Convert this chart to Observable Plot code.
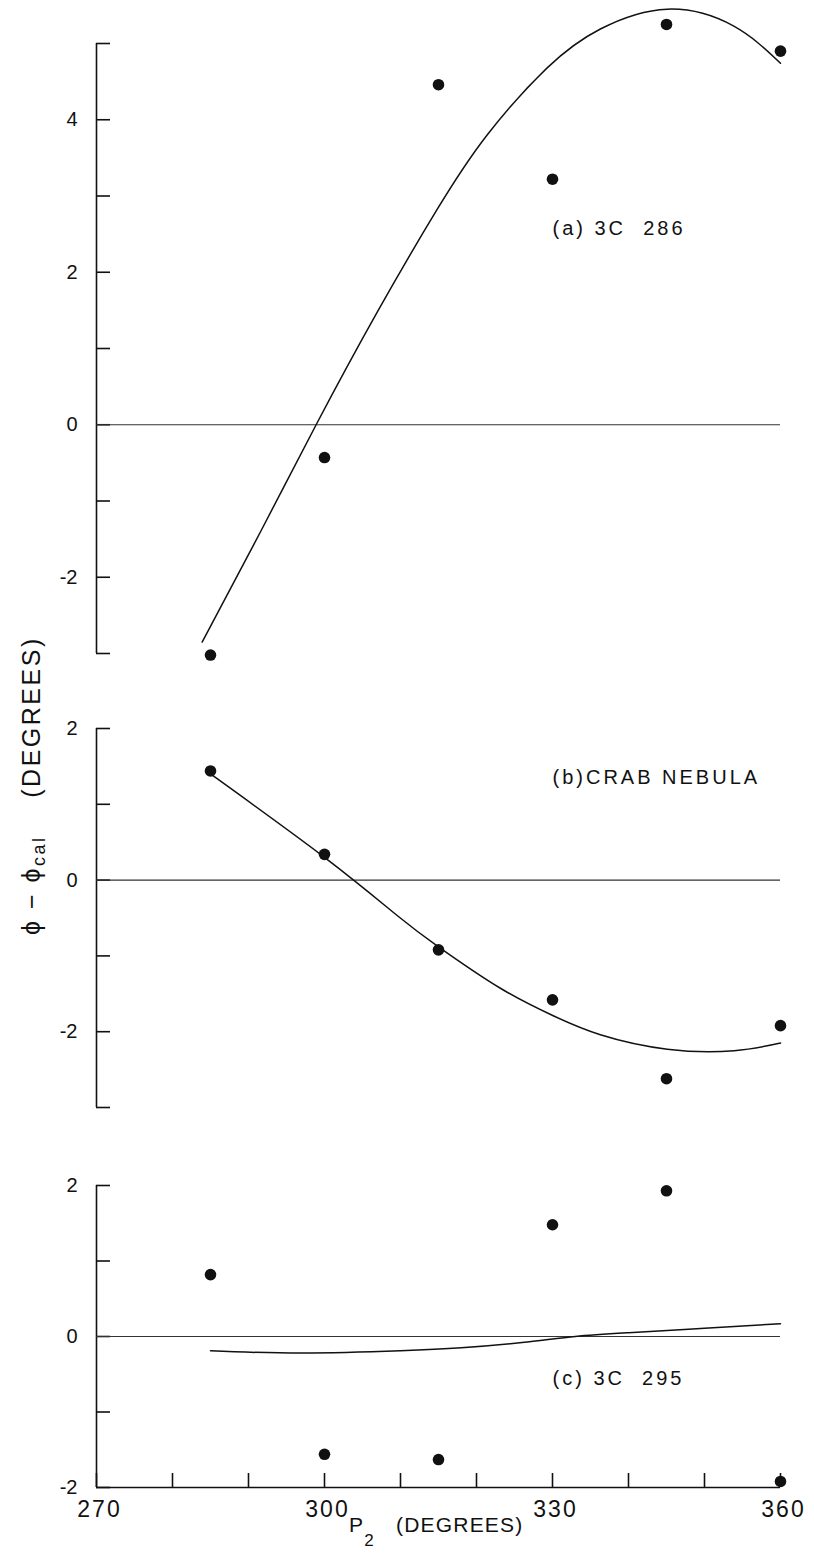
<!DOCTYPE html>
<html>
<head>
<meta charset="utf-8">
<script src="https://cdn.jsdelivr.net/npm/d3@7"></script>
<script src="https://cdn.jsdelivr.net/npm/@observablehq/plot@0.6"></script>
<style>
  html, body { margin: 0; padding: 0; background: #fff; }
  #fig { position: relative; width: 814px; height: 1554px; background: #fff; overflow: hidden; }
  #fig > svg { position: absolute; left: 0; }
  #fig svg [aria-label="text"] text { letter-spacing: 3px; white-space: pre; }
  #fig svg [aria-label="x-axis tick label"] text { letter-spacing: 2px; }
</style>
</head>
<body>
<div id="fig"></div>
<script>
// Azimuth P2 of the six observations (degrees)
const p2 = [285, 300, 315, 330, 345, 360];

// Measured phase residuals phi - phi_cal (degrees) for each source
const resid3C286 = [-3.02, -0.43, 4.46, 3.22, 5.25, 4.90];
const residCrab  = [1.44, 0.34, -0.92, -1.58, -2.62, -1.92];
const resid3C295 = [0.82, -1.56, -1.63, 1.48, 1.93, -1.92];

// Fitted curves, sampled along P2
const fitP2_3C286 = [283.9, 291.6, 298.9, 306.9, 314.8, 321.4, 329.3, 336.3, 345.1, 353.8, 360];
const fit3C286    = [-2.85, -1.40, 0, 1.47, 2.82, 3.80, 4.68, 5.19, 5.45, 5.23, 4.74];
const fitP2_crab  = [285, 300, 309.6, 315, 323.2, 330.1, 336.3, 345.1, 353.9, 360];
const fitCrab     = [1.40, 0.30, -0.47, -0.88, -1.43, -1.79, -2.04, -2.23, -2.25, -2.15];
const fitP2_3C295 = [285, 297, 310, 318, 326, 333, 340, 350, 360];
const fit3C295    = [-0.19, -0.22, -0.19, -0.15, -0.08, 0, 0.05, 0.11, 0.17];

// Axis ticks and labels
const xTicks      = [270, 280, 290, 300, 310, 320, 330, 340, 350, 360];
const xTickLabels = [270, 300, 330, 360];
const yTicksA  = [-3, -2, -1, 0, 1, 2, 3, 4, 5];
const yLabelsA = [-2, 0, 2, 4];
const yTicksB  = [-3, -2, -1, 0, 1, 2];
const yLabelsB = [-2, 0, 2];
const yTicksC  = [-2, -1, 0, 1, 2];
const yLabelsC = [-2, 0, 2];

const sourceNames = ["(a) 3C  286", "(b)CRAB NEBULA", "(c) 3C  295"];

const ink = "#111";
const font = "'Liberation Sans', Arial, sans-serif";

function panel(cfg) {
  const obs = p2.map((p, i) => ({p2: p, value: cfg.resid[i]}));
  const fit = cfg.fitX.map((p, i) => ({p2: p, value: cfg.fitY[i]}));
  const marks = [
    Plot.ruleX([270], {stroke: ink, strokeWidth: 1.6}),
    Plot.axisY({ticks: cfg.ticks, tickSize: -14, tickFormat: () => "", label: null,
                stroke: ink, strokeWidth: 1.6}),
    Plot.axisY({ticks: cfg.labels, tickSize: 0, tickPadding: 19, fontSize: 20, fill: ink,
                label: null, tickFormat: d => String(d)}),
    Plot.ruleY([0], {stroke: "#333", strokeWidth: 1.1}),
    Plot.line(fit, {x: "p2", y: "value", curve: "natural", stroke: ink, strokeWidth: 1.5}),
    Plot.dot(obs, {x: "p2", y: "value", r: 5.8, fill: ink, stroke: "none"}),
    Plot.text([cfg.name], {x: () => 330, y: () => cfg.nameY, text: d => d, textAnchor: "start",
                           fontSize: 20, fill: ink})
  ];
  if (cfg.xAxis) {
    marks.push(
      Plot.ruleY([cfg.domain[0]], {stroke: ink, strokeWidth: 1.6}),
      Plot.axisX({ticks: xTicks, tickSize: -14, tickFormat: () => "", label: null,
                  stroke: ink, strokeWidth: 1.6}),
      Plot.axisX({ticks: xTickLabels, tickSize: 0, tickPadding: 13, fontSize: 23, fill: ink,
                  dx: 3, label: null, tickFormat: d => String(d)})
    );
  }
  const svg = Plot.plot({
    width: 814,
    height: cfg.height,
    marginLeft: 96,
    marginRight: 34,
    marginTop: cfg.marginTop,
    marginBottom: cfg.marginBottom,
    x: cfg.xAxis ? {domain: [270, 360], label: null} : {domain: [270, 360], axis: null, label: null},
    y: {domain: cfg.domain, label: null},
    style: {fontFamily: font, background: "transparent", overflow: "visible", color: ink},
    marks
  });
  svg.style.top = cfg.top + "px";
  return svg;
}

const fig = document.getElementById("fig");

fig.append(panel({
  top: 0, height: 680, marginTop: 43, marginBottom: 27, domain: [-3, 5],
  ticks: yTicksA, labels: yLabelsA, resid: resid3C286, fitX: fitP2_3C286, fitY: fit3C286,
  name: sourceNames[0], nameY: 2.57
}));
fig.append(panel({
  top: 700, height: 430, marginTop: 28, marginBottom: 23, domain: [-3, 2],
  ticks: yTicksB, labels: yLabelsB, resid: residCrab, fitX: fitP2_crab, fitY: fitCrab,
  name: sourceNames[1], nameY: 1.35
}));
fig.append(panel({
  top: 1150, height: 404, marginTop: 35, marginBottom: 67, domain: [-2, 2],
  ticks: yTicksC, labels: yLabelsC, resid: resid3C295, fitX: fitP2_3C295, fitY: fit3C295,
  name: sourceNames[2], nameY: -0.56, xAxis: true
}));

// Shared axis titles
const titles = d3.create("svg")
  .attr("width", 814).attr("height", 1554)
  .style("top", "0px").style("pointer-events", "none")
  .attr("font-family", font).attr("fill", ink);

const yTitle = titles.append("text")
  .attr("transform", "translate(40,935) rotate(-90)")
  .attr("font-size", 25)
  .style("letter-spacing", "2.5px")
  .style("white-space", "pre");
yTitle.append("tspan").text("\u03d5 \u2212 \u03d5");
yTitle.append("tspan").attr("font-size", 18).attr("dy", 5).text("cal");
yTitle.append("tspan").attr("dy", -5).text("    (DEGREES)");

const xTitle = titles.append("text")
  .attr("x", 349).attr("y", 1532)
  .attr("font-size", 21)
  .style("letter-spacing", "1.2px")
  .style("white-space", "pre");
xTitle.append("tspan").text("P");
xTitle.append("tspan").attr("font-size", 17).attr("dy", 14).text("2");
xTitle.append("tspan").attr("dy", -14).text("   (DEGREES)");

fig.append(titles.node());
</script>
</body>
</html>
